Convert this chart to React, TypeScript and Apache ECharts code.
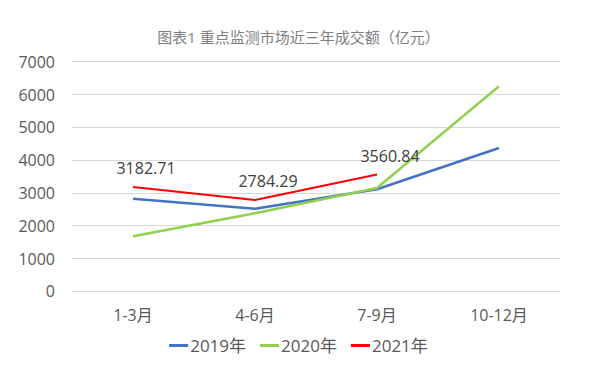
import React, { useEffect, useRef } from "react";
import * as echarts from "echarts";

const titleText = "图表1 重点监测市场近三年成交额（亿元）";
const categories = ["1-3月", "4-6月", "7-9月", "10-12月"];
const seriesNames = ["2019年", "2020年", "2021年"];
const values2019 = [2820, 2520, 3110, 4370];
const values2020 = [1680, 2380, 3150, 6250];
const values2021 = [3182.71, 2784.29, 3560.84];
const yTicks = { min: 0, max: 7000, interval: 1000 };
const colors = ["#4472C4", "#92D050", "#FF0000"];

const FONT = "'Open Sans', 'Noto Sans CJK SC', sans-serif";

export default function App() {
  const ref = useRef<HTMLDivElement>(null);
  useEffect(() => {
    if (!ref.current) return;
    const chart = echarts.init(ref.current, null, { renderer: "svg" });
    chart.setOption({
      animation: false,
      backgroundColor: "#ffffff",
      title: {
        text: titleText,
        left: "center",
        top: 24,
        textStyle: { fontSize: 15, fontWeight: "normal", color: "#808080", fontFamily: FONT },
      },
      grid: { left: 72, right: 37, top: 61.7, bottom: 82.7, containLabel: false },
      legend: {
        bottom: 15,
        left: "center",
        itemWidth: 19,
        itemHeight: 3,
        itemGap: 14,
        icon: "rect",
        data: seriesNames,
        textStyle: { fontSize: 17, color: "#595959", fontFamily: FONT, padding: [0, 0, 0, -3] },
      },
      xAxis: {
        type: "category",
        data: categories,
        boundaryGap: true,
        axisLine: { show: true, lineStyle: { color: "#d9d9d9", width: 1 } },
        axisTick: { show: false },
        axisLabel: { fontSize: 16, color: "#595959", margin: 16, fontFamily: FONT },
      },
      yAxis: {
        type: "value",
        min: yTicks.min,
        max: yTicks.max,
        interval: yTicks.interval,
        axisLine: { show: false },
        axisTick: { show: false },
        splitLine: { lineStyle: { color: "#d9d9d9", width: 1 } },
        axisLabel: {
          fontSize: 16,
          color: "#595959",
          margin: 17,
          fontFamily: FONT,
          formatter: (v: number) => String(v),
        },
      },
      series: [
        {
          name: seriesNames[0],
          type: "line",
          data: values2019,
          symbol: "none",
          lineStyle: { color: colors[0], width: 2.5 },
          itemStyle: { color: colors[0] },
        },
        {
          name: seriesNames[1],
          type: "line",
          data: values2020,
          symbol: "none",
          lineStyle: { color: colors[1], width: 2.5 },
          itemStyle: { color: colors[1] },
        },
        {
          name: seriesNames[2],
          type: "line",
          data: values2021,
          symbol: "circle",
          symbolSize: 0,
          showSymbol: true,
          lineStyle: { color: colors[2], width: 2 },
          itemStyle: { color: colors[2] },
          label: {
            show: true,
            position: "top",
            distance: 11,
            offset: [13, 0],
            fontSize: 16,
            color: "#404040",
            fontFamily: FONT,
            formatter: (p: any) => Number(p.value).toFixed(2),
          },
        },
      ],
    });
    return () => chart.dispose();
  }, []);
  return (
    <div
      ref={ref}
      style={{ position: "fixed", left: 0, top: 0, width: 597, height: 374, background: "#fff" }}
    />
  );
}
